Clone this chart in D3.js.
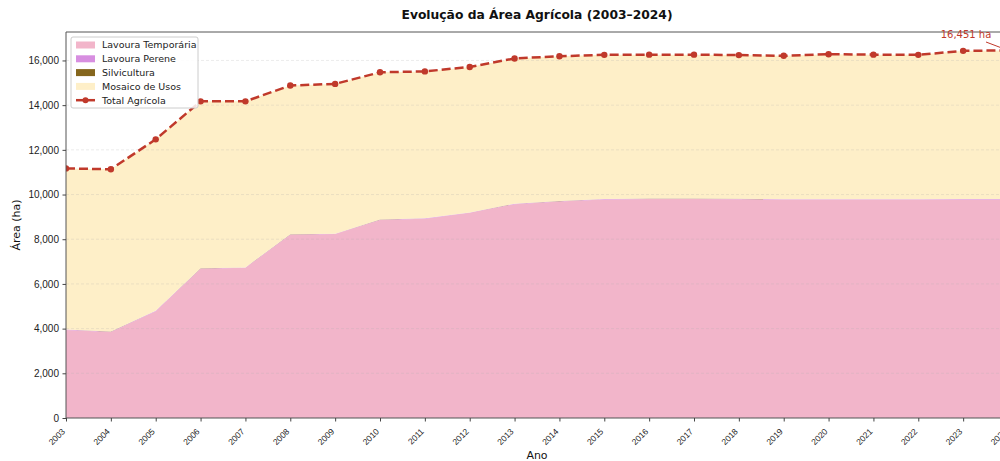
<!DOCTYPE html>
<html>
<head>
<meta charset="utf-8">
<script src="https://cdn.jsdelivr.net/npm/d3@7"></script>
<style>
  body { margin: 0; background: #fff; }
  svg { display: block; font-family: "DejaVu Sans", sans-serif; }
</style>
</head>
<body>
<div id="chart"></div>
<script>
// data (ha)
const years = [2003, 2004, 2005, 2006, 2007, 2008, 2009, 2010, 2011, 2012, 2013,
               2014, 2015, 2016, 2017, 2018, 2019, 2020, 2021, 2022, 2023, 2024];
const temporaria = [3940, 3850, 4780, 6680, 6720, 8200, 8230, 8860, 8920, 9180, 9570,
                    9690, 9780, 9800, 9800, 9790, 9770, 9770, 9770, 9770, 9780, 9780];
const perene = [15, 15, 15, 15, 15, 15, 15, 15, 15, 15, 15,
                15, 15, 15, 15, 15, 15, 15, 15, 15, 15, 15];
const silvicultura = [5, 5, 5, 5, 5, 5, 5, 5, 5, 5, 5,
                      5, 5, 5, 5, 5, 5, 5, 5, 5, 5, 5];
const mosaico = [7210, 7260, 7670, 7470, 7430, 6660, 6700, 6590, 6570, 6510, 6500,
                 6480, 6450, 6440, 6440, 6430, 6420, 6490, 6470, 6460, 6630, 6651];
const yTicks = [0, 2000, 4000, 6000, 8000, 10000, 12000, 14000, 16000];

const seriesNames = ['Lavoura Temporária', 'Lavoura Perene', 'Silvicultura', 'Mosaico de Usos'];
const seriesColors = ['#f2b5ca', '#d78ee0', '#85661d', '#feefc8'];
const lineColor = '#c0392b';

const rows = years.map((y, i) => ({
    year: y,
    'Lavoura Temporária': temporaria[i],
    'Lavoura Perene': perene[i],
    'Silvicultura': silvicultura[i],
    'Mosaico de Usos': mosaico[i]
}));
const totals = rows.map(r => ({ year: r.year, value: seriesNames.reduce((s, k) => s + r[k], 0) }));

const width = 1000, height = 461;
const margin = { left: 66, top: 32, bottom: 43 };
const plotRight = 1008;  // axes run past the right edge of the picture

const x = d3.scaleLinear().domain([2003, 2024]).range([margin.left, plotRight]);
const ymax = d3.max(totals, d => d.value) * 1.05;
const y = d3.scaleLinear().domain([0, ymax]).range([height - margin.bottom, margin.top]);

const svg = d3.select('#chart').append('svg')
    .attr('width', width)
    .attr('height', height);

svg.append('defs').append('clipPath').attr('id', 'clip')
    .append('rect')
    .attr('x', margin.left).attr('y', margin.top)
    .attr('width', plotRight - margin.left).attr('height', y(0) - margin.top);

const plot = svg.append('g').attr('clip-path', 'url(#clip)');

// stacked areas
const stack = d3.stack().keys(seriesNames);
const layers = stack(rows);
const area = d3.area()
    .x(d => x(d.data.year))
    .y0(d => y(d[0]))
    .y1(d => y(d[1]));

plot.selectAll('.layer')
    .data(layers)
    .enter()
    .append('path')
    .attr('class', 'layer')
    .attr('d', area)
    .attr('fill', (d, i) => seriesColors[i]);

// grid (drawn on top of the fill, faint)
plot.selectAll('.grid')
    .data(yTicks)
    .enter()
    .append('line')
    .attr('x1', margin.left).attr('x2', plotRight)
    .attr('y1', d => y(d)).attr('y2', d => y(d))
    .attr('stroke', '#b0b0b0')
    .attr('stroke-opacity', 0.3)
    .attr('stroke-width', 0.8)
    .attr('stroke-dasharray', '3,2');

// total line
const line = d3.line().x(d => x(d.year)).y(d => y(d.value));
plot.append('path')
    .datum(totals)
    .attr('d', line)
    .attr('fill', 'none')
    .attr('stroke', lineColor)
    .attr('stroke-width', 2.5)
    .attr('stroke-dasharray', '9,4');

plot.selectAll('.dot')
    .data(totals)
    .enter()
    .append('circle')
    .attr('cx', d => x(d.year))
    .attr('cy', d => y(d.value))
    .attr('r', 3.2)
    .attr('fill', lineColor);

// spines
svg.append('line')
    .attr('x1', margin.left).attr('x2', margin.left)
    .attr('y1', margin.top).attr('y2', y(0))
    .attr('stroke', '#555').attr('stroke-width', 1);
svg.append('line')
    .attr('x1', margin.left).attr('x2', plotRight)
    .attr('y1', y(0)).attr('y2', y(0))
    .attr('stroke', '#555').attr('stroke-width', 1);
svg.append('line')
    .attr('x1', margin.left).attr('x2', plotRight)
    .attr('y1', margin.top).attr('y2', margin.top)
    .attr('stroke', '#555').attr('stroke-width', 1);

// y axis
const yAxis = svg.append('g')
    .attr('transform', 'translate(' + margin.left + ',0)')
    .call(d3.axisLeft(y).tickValues(yTicks).tickSize(3.5).tickPadding(3.5).tickFormat(d3.format(',')));
yAxis.select('.domain').remove();
yAxis.selectAll('text').style('font-size', '10px').attr('fill', '#222');
yAxis.selectAll('line').attr('stroke', '#444');

// x axis, labels rotated 45 deg with their end at the tick
const xAxis = svg.append('g')
    .attr('transform', 'translate(0,' + y(0) + ')')
    .call(d3.axisBottom(x).tickValues(years).tickSize(3.5).tickFormat(d3.format('d')));
xAxis.select('.domain').remove();
xAxis.selectAll('line').attr('stroke', '#444');
xAxis.selectAll('text')
    .style('font-size', '8.5px')
    .attr('fill', '#222')
    .style('text-anchor', 'end')
    .attr('x', 0)
    .attr('y', 0)
    .attr('dy', '0.35em')
    .attr('transform', 'translate(-3,12) rotate(-45)');

// labels
svg.append('text')
    .attr('x', (margin.left + plotRight) / 2)
    .attr('y', 19)
    .attr('text-anchor', 'middle')
    .style('font-size', '12.3px')
    .style('font-weight', 'bold')
    .attr('fill', '#111')
    .text('Evolução da Área Agrícola (2003–2024)');

svg.append('text')
    .attr('x', (margin.left + plotRight) / 2)
    .attr('y', 459)
    .attr('text-anchor', 'middle')
    .style('font-size', '11px')
    .attr('fill', '#111')
    .text('Ano');

svg.append('text')
    .attr('transform', 'translate(20,' + ((margin.top + y(0)) / 2) + ') rotate(-90)')
    .attr('text-anchor', 'middle')
    .style('font-size', '11px')
    .attr('fill', '#111')
    .text('Área (ha)');

// annotation on last point
const last = totals[totals.length - 1];
svg.append('line')
    .attr('x1', 986).attr('y1', 42)
    .attr('x2', x(last.year)).attr('y2', y(last.value))
    .attr('stroke', lineColor).attr('stroke-width', 1);
svg.append('text')
    .attr('x', 966)
    .attr('y', 38)
    .attr('text-anchor', 'middle')
    .style('font-size', '10px')
    .attr('fill', lineColor)
    .text(d3.format(',')(last.value) + ' ha');

// legend
const legend = svg.append('g').attr('transform', 'translate(71,37)');
legend.append('rect')
    .attr('width', 127).attr('height', 71)
    .attr('rx', 2)
    .attr('fill', '#fff').attr('fill-opacity', 0.85)
    .attr('stroke', '#ccc');

const legendItems = seriesNames.map((n, i) => ({ name: n, color: seriesColors[i], type: 'patch' }))
    .concat([{ name: 'Total Agrícola', color: lineColor, type: 'line' }]);

const item = legend.selectAll('.item')
    .data(legendItems)
    .enter()
    .append('g')
    .attr('transform', (d, i) => 'translate(5,' + (8 + i * 13.8) + ')');

item.filter(d => d.type === 'patch').append('rect')
    .attr('x', 0).attr('y', -3.5)
    .attr('width', 19).attr('height', 7)
    .attr('fill', d => d.color);
item.filter(d => d.type === 'line').append('line')
    .attr('x1', 0).attr('x2', 19)
    .attr('stroke', d => d.color).attr('stroke-width', 2.5);
item.filter(d => d.type === 'line').append('circle')
    .attr('cx', 9.5).attr('r', 3).attr('fill', d => d.color);

item.append('text')
    .attr('x', 26)
    .attr('dy', '0.35em')
    .style('font-size', '9.5px')
    .attr('fill', '#222')
    .text(d => d.name);
</script>
</body>
</html>
